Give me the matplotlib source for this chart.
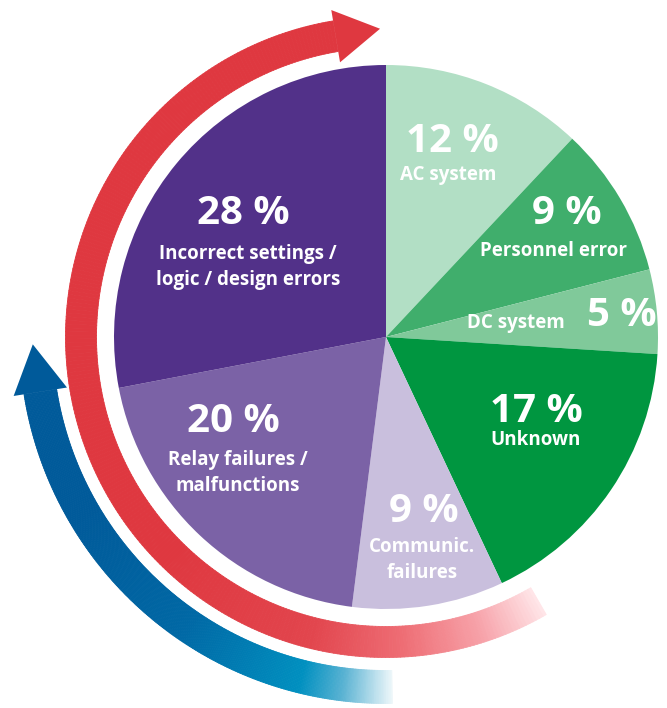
import numpy as np
import matplotlib.pyplot as plt
from matplotlib.collections import PolyCollection
from matplotlib.patches import Polygon
from matplotlib.colors import LinearSegmentedColormap

# Datos del gráfico
categorias = ['AC system', 'Personnel error', 'DC system', 'Unknown',
              'Communic.\nfailures', 'Relay failures /\nmalfunctions',
              'Incorrect settings /\nlogic / design errors']
valores = [12, 9, 5, 17, 9, 20, 28]
colores = ['#b2dfc5', '#40ae6c', '#80c99a', '#009640',
           '#c9bfdd', '#7b62a6', '#523189']

W, H = 667, 708
cx, cy = 386, H - 337   # centro del círculo
R = 272

fig = plt.figure(figsize=(W / 100, H / 100), dpi=100)
ax = fig.add_axes([0, 0, 1, 1])

ax.pie(valores, colors=colores, startangle=90, counterclock=False,
       radius=R, center=(cx, cy), wedgeprops=dict(linewidth=0),
       frame=True)
ax.set_xlim(0, W)
ax.set_ylim(0, H)
ax.set_aspect('equal')
ax.axis('off')


# Flecha en arco con degradado (sentido horario)
def flecha_arco(a_ini, a_fin, r, ancho, cmap, stops, cabeza_l, cabeza_w, n=300):
    ang = np.linspace(a_ini, a_fin, n + 1)
    polys, cols = [], []
    for i in range(n):
        t0, t1 = np.radians(ang[i]), np.radians(ang[i + 1])
        ri, ro = r - ancho / 2, r + ancho / 2
        polys.append([(cx + ri * np.cos(t0), cy + ri * np.sin(t0)),
                      (cx + ro * np.cos(t0), cy + ro * np.sin(t0)),
                      (cx + ro * np.cos(t1), cy + ro * np.sin(t1)),
                      (cx + ri * np.cos(t1), cy + ri * np.sin(t1))])
        am = 0.5 * (ang[i] + ang[i + 1])
        cols.append(np.interp(am, stops[0], stops[1]))
    c = cmap(np.array(cols))
    pc = PolyCollection(polys, facecolors=c, edgecolors=c, linewidths=0.6)
    ax.add_collection(pc)
    # cabeza
    t = np.radians(a_fin)
    bx, by = cx + r * np.cos(t), cy + r * np.sin(t)
    ux, uy = np.cos(t), np.sin(t)
    dx, dy = np.sin(t), -np.cos(t)
    tri = [(bx + ux * cabeza_w / 2, by + uy * cabeza_w / 2),
           (bx - ux * cabeza_w / 2, by - uy * cabeza_w / 2),
           (bx + dx * cabeza_l, by + dy * cabeza_l)]
    ax.add_patch(Polygon(tri, closed=True, facecolor=cmap(1.0), edgecolor='none'))


rojo = LinearSegmentedColormap.from_list(
    'rojo', ['#ffe6e9', '#f7a3aa', '#ee6d74', '#e2464e', '#df3840'])
flecha_arco(-60, -260.5, 305, 31, rojo,
            ([-260.5, -135, -106, -87, -72, -60],
             [1.0, 1.0, 0.78, 0.5, 0.25, 0.0]),
            45, 53)

azul = LinearSegmentedColormap.from_list(
    'azul', ['#eef7fa', '#5ab3d3', '#0090c0', '#0068a5', '#005a9a'])
flecha_arco(-89, -171, 350, 33, azul,
            ([-171, -150, -125, -104, -97, -89],
             [1.0, 1.0, 0.75, 0.5, 0.25, 0.0]),
            48, 54)

# Etiquetas
fuente = 'Open Sans'
pct = [(452, 142), (567, 213), (622, 316), (536, 411),
       (424, 512), (233, 422), (243, 213)]
nom = [(448, 175), (554, 251), (516, 323), (536, 440),
       (422, 560), (238, 473), (248, 267)]
for v, cat, p, q in zip(valores, categorias, pct, nom):
    ax.text(p[0], H - p[1], f'{v} %', ha='center', va='center', color='white',
            fontsize=29, fontweight='bold', family=fuente)
    ax.text(q[0], H - q[1], cat, ha='center', va='center', color='white',
            fontsize=13.5, fontweight='bold', family=fuente, linespacing=1.35)

fig.savefig('out.png', dpi=100)
